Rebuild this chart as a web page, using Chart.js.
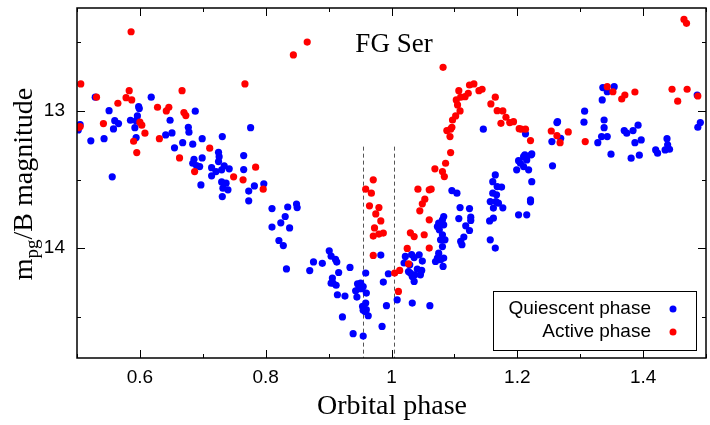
<!DOCTYPE html>
<html>
<head>
<meta charset="utf-8">
<script src="https://cdn.jsdelivr.net/npm/chart.js@4"></script>
<style>
  html, body { margin: 0; padding: 0; background: #fff; }
</style>
</head>
<body>
<canvas id="myChart" width="710" height="425"></canvas>
<script>
const ctx = document.getElementById('myChart');

// quiescent phase (blue)
const quiescentPhase = [0.502,0.505,0.522,0.529,0.543,0.551,0.556,0.560,0.566,0.558,0.585,0.596,0.594,0.592,0.594,0.598,0.599,0.618,0.648,0.651,
  0.641,0.655,0.668,0.677,0.678,0.688,0.684,0.699,0.686,0.684,0.690,0.695,0.699,0.697,0.714,0.714,0.721,0.730,0.734,0.742,
  0.725,0.726,0.725,0.731,0.730,0.737,0.732,0.740,0.731,0.765,0.765,0.776,0.773,0.782,0.797,0.773,0.810,0.835,0.849,0.850,
  0.831,0.824,0.810,0.838,0.821,0.828,0.833,0.876,0.890,0.870,0.901,0.904,0.911,0.913,0.934,0.916,0.906,0.907,0.904,0.912,
  0.914,0.926,0.922,0.939,0.955,0.946,0.951,0.955,0.953,0.948,0.960,0.945,0.943,0.959,0.983,0.959,0.954,0.960,0.958,0.963,
  0.955,0.985,0.992,0.987,0.995,1.009,1.022,1.032,1.044,1.036,1.049,1.020,1.029,1.027,1.030,1.037,1.033,1.046,1.048,1.036,
  1.041,1.033,1.061,1.083,1.081,1.075,1.073,1.076,1.083,1.081,1.078,1.085,1.081,1.075,1.073,1.078,1.083,1.070,1.082,1.096,
  1.104,1.109,1.124,1.107,1.126,1.126,1.118,1.124,1.115,1.110,1.112,1.146,1.165,1.161,1.168,1.175,1.161,1.167,1.157,1.166,
  1.170,1.162,1.177,1.162,1.156,1.157,1.165,1.202,1.215,1.221,1.223,1.202,1.212,1.215,1.222,1.199,1.210,1.218,1.213,1.205,
  1.256,1.213,1.223,1.263,1.255,1.264,1.269,1.307,1.306,1.338,1.338,1.334,1.343,1.328,1.349,1.336,1.354,1.343,1.335,1.370,
  1.374,1.384,1.392,1.387,1.397,1.381,1.394,1.420,1.423,1.438,1.439,1.435,1.442,1.486,1.491,1.487,1.210,1.221];
const quiescentMag = [13.138,13.100,13.218,12.900,13.202,12.998,13.480,13.071,13.092,13.131,13.068,13.036,13.071,13.122,13.194,12.969,12.983,12.900,13.068,13.160,
  13.175,13.269,13.231,13.119,13.155,13.002,13.242,13.202,13.352,13.381,13.398,13.405,13.342,13.539,13.413,13.473,13.442,13.429,13.400,13.422,
  13.301,13.333,13.369,13.187,13.517,13.526,13.563,13.575,13.624,13.325,13.427,13.122,13.584,13.546,13.531,13.655,13.711,13.700,13.678,13.704,
  13.769,13.815,13.846,13.852,13.944,13.981,14.151,14.100,14.110,14.163,14.019,14.058,14.082,14.101,14.140,14.177,14.218,14.254,14.255,14.270,
  14.339,14.349,14.501,14.623,14.640,14.259,14.254,14.279,14.295,14.295,14.327,14.356,14.310,14.181,14.050,14.400,14.424,14.448,14.461,14.492,
  14.453,14.570,14.419,14.247,14.186,14.376,14.060,14.046,14.048,14.068,14.094,14.108,14.121,14.170,14.181,14.194,14.206,14.194,14.162,14.242,
  14.152,14.400,14.419,13.769,13.793,13.817,13.842,13.866,13.830,13.902,13.939,13.939,13.988,14.036,14.072,14.084,14.072,14.097,14.133,13.580,
  13.599,13.704,13.711,13.784,13.774,13.798,13.837,13.871,13.919,13.951,13.975,13.133,13.466,13.515,13.551,13.555,13.599,13.611,13.660,13.660,
  13.672,13.708,13.706,13.781,13.801,13.939,13.999,13.757,13.757,13.662,13.515,13.362,13.320,13.357,13.320,13.429,13.405,13.429,13.337,13.381,
  13.400,13.167,13.313,13.085,13.223,13.078,13.199,13.002,13.082,13.066,13.122,13.187,13.187,13.231,13.315,12.830,12.823,12.860,12.920,13.143,
  13.162,13.143,13.104,13.231,13.211,13.344,13.322,13.284,13.308,13.202,13.247,13.284,13.279,12.884,13.085,13.119,13.333,13.648];

// active phase (red)
const activePhase = [0.586,0.844,0.866,0.506,0.767,0.583,0.667,0.531,0.578,0.587,0.565,0.628,0.642,0.646,0.670,0.673,0.502,0.505,0.542,0.600,
  0.603,0.608,0.631,0.590,0.595,0.663,0.711,0.687,0.749,0.784,0.764,0.796,0.971,0.959,0.968,0.965,0.980,0.975,0.983,0.973,
  0.971,0.980,0.987,0.971,1.005,1.013,1.011,1.027,1.025,1.030,1.036,1.052,1.060,1.060,1.045,1.049,1.053,1.042,1.060,1.063,
  1.069,1.081,1.084,1.086,1.094,1.082,1.093,1.088,1.094,1.096,1.097,1.102,1.109,1.105,1.103,1.110,1.117,1.122,1.107,1.124,
  1.131,1.139,1.144,1.165,1.158,1.168,1.177,1.182,1.174,1.188,1.194,1.203,1.213,1.206,1.221,1.254,1.263,1.268,1.281,1.308,
  1.343,1.352,1.366,1.371,1.387,1.446,1.470,1.455,1.487,1.465,1.469];
const activeMag = [12.423,12.592,12.498,12.803,12.803,12.852,12.852,12.900,12.903,12.920,12.944,12.973,13.000,12.973,13.012,13.034,13.122,13.114,13.092,13.082,
  13.104,13.162,13.202,13.221,13.303,13.342,13.271,13.442,13.480,13.410,13.502,13.570,13.502,13.570,13.599,13.691,13.704,13.750,13.801,13.852,
  13.912,13.897,13.890,14.053,14.181,14.162,14.315,14.114,14.002,13.888,13.915,13.902,13.999,13.793,13.728,13.677,13.643,13.570,13.575,13.570,
  13.422,13.442,13.478,13.381,13.303,12.682,13.187,13.143,13.133,13.119,13.066,13.036,13.000,12.956,12.920,12.900,12.896,12.871,12.852,12.811,
  12.803,12.852,12.842,12.900,12.949,12.998,13.000,13.046,13.090,13.085,13.078,13.129,13.133,13.133,13.216,13.146,13.180,13.231,13.153,13.223,
  12.823,12.860,12.913,12.884,12.862,12.842,12.842,12.929,12.891,12.333,12.362];

const xTickLabels = ['0.6', '0.8', '1', '1.2', '1.4'];
const yTickLabels = ['13', '14'];
const dashPhases = [0.954, 1.004];
const dashTop = 13.26;

const toPoints = (xs, ys) => xs.map((v, i) => ({ x: v, y: ys[i] }));

const serif = '"Liberation Serif", "DejaVu Serif", serif';
const sans = '"Liberation Sans", Arial, sans-serif';

const noPad = s => { s.paddingTop = 0; s.paddingBottom = 0; s.paddingLeft = 0; s.paddingRight = 0; };

const framePlugin = {
  id: 'frame',
  beforeDatasetsDraw(chart) {
    const { ctx, chartArea: a, scales: { x, y } } = chart;
    ctx.save();
    ctx.strokeStyle = '#555';
    ctx.lineWidth = 1;
    ctx.setLineDash([4, 3]);
    dashPhases.forEach(p => {
      const px = Math.round(x.getPixelForValue(p)) + 0.5;
      ctx.beginPath();
      ctx.moveTo(px, y.getPixelForValue(dashTop));
      ctx.lineTo(px, a.bottom);
      ctx.stroke();
    });
    ctx.restore();
  },
  afterDatasetsDraw(chart) {
    const { ctx, chartArea: a, scales: { x, y } } = chart;
    ctx.save();
    ctx.strokeStyle = '#000';
    ctx.lineWidth = 1.5;
    ctx.strokeRect(a.left, a.top, a.right - a.left, a.bottom - a.top);

    ctx.lineWidth = 1;
    // x ticks, inward, top and bottom
    for (let i = 5; i <= 15; i++) {
      const len = i % 2 === 0 ? 8 : 4;
      const px = Math.round(x.getPixelForValue(i / 10)) + 0.5;
      ctx.beginPath();
      ctx.moveTo(px, a.bottom); ctx.lineTo(px, a.bottom - len);
      ctx.moveTo(px, a.top); ctx.lineTo(px, a.top + len);
      ctx.stroke();
    }
    // y ticks
    [12.5, 13, 13.5, 14, 14.5].forEach(v => {
      const len = Number.isInteger(v) ? 8 : 4;
      const py = Math.round(y.getPixelForValue(v)) + 0.5;
      ctx.beginPath();
      ctx.moveTo(a.left, py); ctx.lineTo(a.left + len, py);
      ctx.moveTo(a.right, py); ctx.lineTo(a.right - len, py);
      ctx.stroke();
    });

    // title
    ctx.fillStyle = '#000';
    ctx.font = '27px ' + serif;
    ctx.textAlign = 'center';
    ctx.textBaseline = 'middle';
    ctx.fillText('FG Ser', 394, 45);

    // x axis title
    ctx.font = '28px ' + serif;
    ctx.fillText('Orbital phase', 392, 407);

    // y axis title with subscript
    ctx.save();
    ctx.translate(27, 184);
    ctx.rotate(-Math.PI / 2);
    ctx.textAlign = 'left';
    ctx.textBaseline = 'alphabetic';
    ctx.font = '28px ' + serif;
    const w1 = ctx.measureText('m').width;
    const w3 = ctx.measureText('/B magnitude').width;
    ctx.font = '19px ' + serif;
    const w2 = ctx.measureText('pg').width;
    let sx = -(w1 + w2 + w3) / 2;
    ctx.font = '28px ' + serif;
    ctx.fillText('m', sx, 5);
    sx += w1;
    ctx.font = '19px ' + serif;
    ctx.fillText('pg', sx, 11);
    sx += w2;
    ctx.font = '28px ' + serif;
    ctx.fillText('/B magnitude', sx, 5);
    ctx.restore();

    // legend
    ctx.fillStyle = '#fff';
    ctx.fillRect(493.5, 291.5, 203, 59);
    ctx.strokeStyle = '#000';
    ctx.lineWidth = 1;
    ctx.strokeRect(493.5, 291.5, 203, 59);
    ctx.font = '19px ' + sans;
    ctx.textAlign = 'right';
    ctx.textBaseline = 'middle';
    chart.data.datasets.forEach((ds, i) => {
      const ly = 309 + i * 23;
      ctx.fillStyle = '#000';
      ctx.fillText(ds.label, 651, ly);
      ctx.fillStyle = ds.backgroundColor;
      ctx.beginPath();
      ctx.arc(673, ly, 3.5, 0, Math.PI * 2);
      ctx.fill();
    });
    ctx.restore();
  }
};

new Chart(ctx, {
  type: 'scatter',
  data: {
    datasets: [{
      label: 'Quiescent phase',
      data: toPoints(quiescentPhase, quiescentMag),
      backgroundColor: '#0000ff',
      borderWidth: 0,
      pointRadius: 3.6,
      order: 1
    },
    {
      label: 'Active phase',
      data: toPoints(activePhase, activeMag),
      backgroundColor: '#ff0000',
      borderWidth: 0,
      pointRadius: 3.6,
      order: 0
    }]
  },
  options: {
    responsive: false,
    animation: false,
    layout: { padding: { top: 8, right: 2, left: 0, bottom: 0 } },
    plugins: { legend: { display: false }, tooltip: { enabled: false } },
    scales: {
      x: {
        type: 'linear',
        min: 0.5,
        max: 1.5,
        grid: { display: false, drawTicks: false },
        border: { display: false },
        afterFit: s => { s.height = 67; noPad(s); },
        ticks: {
          stepSize: 0.1,
          autoSkip: false,
          maxRotation: 0,
          padding: 8,
          color: '#000',
          font: { family: sans, size: 19 },
          callback: v => {
            const lab = String(Math.round(v * 10) / 10);
            return xTickLabels.includes(lab) ? lab : '';
          }
        }
      },
      y: {
        type: 'linear',
        reverse: true,
        min: 12.25,
        max: 14.8,
        grid: { display: false, drawTicks: false },
        border: { display: false },
        afterFit: s => { s.width = 77; noPad(s); },
        ticks: {
          stepSize: 0.5,
          autoSkip: false,
          padding: 12,
          color: '#000',
          font: { family: sans, size: 19 },
          callback: v => {
            const lab = String(Math.round(v * 10) / 10);
            return yTickLabels.includes(lab) ? lab : '';
          }
        }
      }
    }
  },
  plugins: [framePlugin]
});
</script>
</body>
</html>
